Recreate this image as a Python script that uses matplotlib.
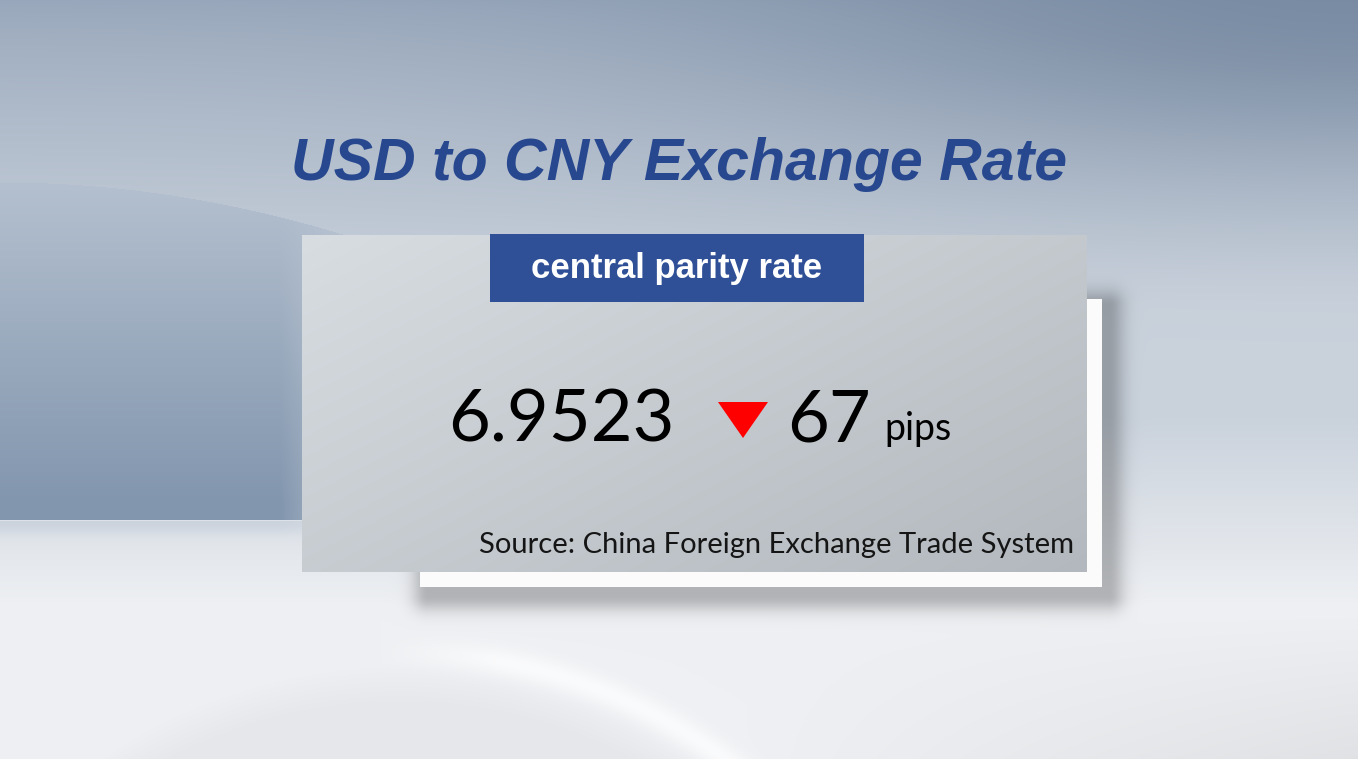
import numpy as np
import matplotlib.pyplot as plt
from matplotlib.patches import Rectangle, Polygon

# Content of the card
title = 'USD to CNY Exchange Rate'
label = 'central parity rate'
rate = 6.9523
change_pips = -67
unit = 'pips'
source = 'Source: China Foreign Exchange Trade System'

W, H = 1358, 759


def rect_shadow(x0, y0, x1, y1, spread, strength):
    # soft shadow of a rectangle as an alpha map over the whole figure
    dx = np.maximum(np.maximum(x0 - xx, 0), xx - x1)
    dy = np.maximum(np.maximum(y0 - yy, 0), yy - y1)
    d = np.sqrt(dx ** 2 + dy ** 2)
    return strength * np.exp(-(d / spread) ** 2)


fig = plt.figure(figsize=(W / 100, H / 100), dpi=100)
ax = fig.add_axes([0, 0, 1, 1])
ax.set_xlim(0, W)
ax.set_ylim(H, 0)
ax.axis('off')

# background: blue-grey studio backdrop, light at the bottom
yy, xx = np.mgrid[0:H, 0:W].astype(float)
ty = yy / H
tx = xx / W
top = np.array([152, 167, 187]) / 255
mid = np.array([202, 210, 220]) / 255
low = np.array([238, 240, 243]) / 255
w1 = np.clip(ty / 0.40, 0, 1)[..., None] ** 0.8
w2 = np.clip((ty - 0.55) / 0.25, 0, 1)[..., None]
bg = top * (1 - w1) + mid * w1
bg = bg * (1 - w2) + low * w2
# darker, bluer top-right corner
corner = 0.7 * np.exp(-(((1 - tx) / 0.45) ** 2 + (ty / 0.22) ** 2))[..., None]
bg = bg * (1 - corner) + np.array([108, 128, 153]) / 255 * corner

# left curved shape below an arc
arc_y = 182 + 40 * (xx / 300.0) ** 2
inside = (yy > arc_y) & (yy < 520)
shade = np.clip((yy - 182) / 320.0, 0, 1)[..., None]
c_top = np.array([180, 192, 207]) / 255
c_bot = np.array([130, 150, 174]) / 255
left_col = c_top * (1 - shade) + c_bot * shade
fade = np.clip(1 - (xx - 280) / 120.0, 0, 1)[..., None]
mask = inside[..., None] * fade
bg = bg * (1 - mask) + left_col * mask
# short soft transition just below the floor line
below = np.exp(-((yy - 522) / 12.0) ** 2)[..., None] * (yy > 520)[..., None] * fade
bg = bg * (1 - 0.35 * below) + np.array([170, 183, 200]) / 255 * 0.35 * below

# bottom: slightly grey disc with a bright rim
r = np.sqrt((xx - 400) ** 2 + (yy - 1200) ** 2)
disc = np.clip((538 - r) / 40.0, 0, 1)[..., None]
bg = bg * (1 - 0.035 * disc)
rim_w = np.clip((xx - 380) / 120.0, 0, 1)[..., None]
rim = np.exp(-((r - 548) / 14.0) ** 2)[..., None] * rim_w
bg = bg + (1 - bg) * 0.7 * rim
grey_right = np.clip((tx - 0.55) / 0.45, 0, 1)[..., None] * np.clip((ty - 0.8) / 0.2, 0, 1)[..., None]
bg = bg * (1 - 0.06 * grey_right)

# shadow of the white back card
sh = rect_shadow(428, 305, 1108, 595, 16, 0.45)
bg = bg * (1 - sh[..., None] * 0.55)
ax.imshow(np.clip(bg, 0, 1), extent=(0, W, H, 0), aspect='auto', zorder=0)

# white back card
ax.add_patch(Rectangle((420, 299), 682, 288, color='#fbfbfb', lw=0, zorder=2))

# grey front card with a gradient
ph = 572 - 235
pw = 1087 - 302
gy, gx = np.mgrid[0:ph, 0:pw]
c1 = np.array([216, 221, 226]) / 255
c2 = np.array([178, 184, 189]) / 255
t = np.clip(0.55 * gx / pw + 0.45 * gy / ph, 0, 1)[..., None]
card = c1 * (1 - t) + c2 * t
ax.imshow(card, extent=(302, 1087, 572, 235), aspect='auto', zorder=3)

# title
ax.text(679, 180, title, ha='center', va='baseline', fontsize=42.5,
        fontweight='bold', fontstyle='italic', family='Liberation Sans',
        color='#27488f', zorder=5)

# blue label box
ax.add_patch(Rectangle((490, 234), 374, 68, color='#2f5096', lw=0, zorder=4))
ax.text(677, 278, label, ha='center', va='baseline', fontsize=25,
        fontweight='bold', family='Liberation Sans', color='white', zorder=5)

# rate, change arrow and pips
ax.text(448, 442, f'{rate:.4f}', ha='left', va='baseline', fontsize=52,
        family='Lato', color='black', zorder=5)
down = change_pips < 0
tri = [(718, 402), (768, 402), (743, 438)] if down else [(718, 438), (768, 438), (743, 402)]
ax.add_patch(Polygon(tri, closed=True, color='#ff0000', lw=0, zorder=5))
ax.text(787, 442, f'{abs(change_pips)}', ha='left', va='baseline', fontsize=52,
        family='Lato', color='black', zorder=5)
ax.text(884, 440, unit, ha='left', va='baseline', fontsize=27,
        family='Lato', color='black', zorder=5)

# source
ax.text(1074, 553, source, ha='right', va='baseline', fontsize=21,
        family='Lato', color='#151515', zorder=5)

fig.savefig('out.png', dpi=100)
